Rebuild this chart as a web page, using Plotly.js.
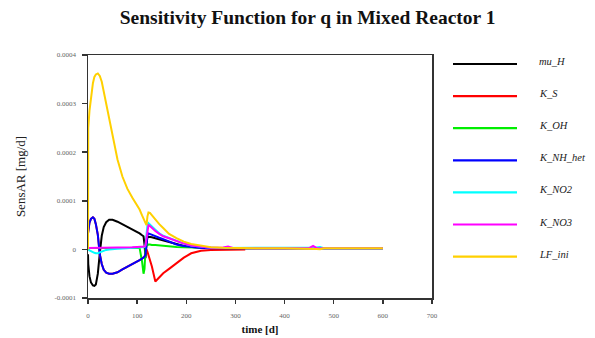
<!DOCTYPE html>
<html>
<head>
<meta charset="utf-8">
<script src="https://cdn.plot.ly/plotly-3.0.1.min.js"></script>
<style>html,body{margin:0;padding:0;background:#fff;}#chart{width:595px;height:338px;}</style>
</head>
<body>
<div id="chart"></div>
<script>
// time [d]
var time = [0, 0.5, 3, 6, 10, 13, 16, 20, 24, 28,
            32, 37, 43, 50, 60, 70, 80, 90, 100, 105,
            110, 113, 115, 117, 119, 121, 123, 126, 130, 137,
            145, 153, 165, 180, 195, 210, 230, 250, 275, 285,
            295, 320, 350, 400, 450, 458, 465, 472, 480, 520,
            560, 600];

var mu_H = [-0.1e-4, -0.3e-4, -0.55e-4, -0.68e-4, -0.74e-4, -0.75e-4, -0.72e-4, -0.5e-4, -0.08e-4, 0.28e-4,
            0.46e-4, 0.56e-4, 0.61e-4, 0.61e-4, 0.57e-4, 0.52e-4, 0.46e-4, 0.41e-4, 0.36e-4, 0.33e-4,
            0.29e-4, 0.27e-4, 0.1e-4, -0.18e-4, 0.1e-4, 0.26e-4, 0.26e-4, 0.26e-4, 0.25e-4, 0.23e-4,
            0.21e-4, 0.19e-4, 0.15e-4, 0.11e-4, 0.07e-4, 0.05e-4, 0.03e-4, 0.025e-4, 0.025e-4, 0.025e-4,
            0.025e-4, 0.025e-4, 0.025e-4, 0.025e-4, 0.025e-4, 0.025e-4, 0.025e-4, 0.025e-4, 0.025e-4, 0.025e-4,
            0.025e-4, 0.025e-4];

var K_S = [0.33e-4, 0.4e-4, 0.55e-4, 0.63e-4, 0.66e-4, 0.63e-4, 0.52e-4, 0.3e-4, -0.1e-4, -0.3e-4,
           -0.42e-4, -0.48e-4, -0.5e-4, -0.5e-4, -0.47e-4, -0.41e-4, -0.36e-4, -0.3e-4, -0.25e-4, -0.22e-4,
           -0.19e-4, -0.17e-4, -0.15e-4, -0.1e-4, 0.0, -0.05e-4, -0.12e-4, -0.18e-4, -0.35e-4, -0.66e-4,
           -0.58e-4, -0.49e-4, -0.4e-4, -0.28e-4, -0.17e-4, -0.08e-4, -0.03e-4, -0.01e-4, -0.005e-4, 0.0,
           0.0, 0.0, null, null, null, null, null, null, null, null,
           null, null];

var K_OH = [0.03e-4, 0.03e-4, 0.03e-4, 0.03e-4, 0.03e-4, 0.03e-4, 0.03e-4, 0.03e-4, 0.03e-4, 0.03e-4,
            0.03e-4, 0.03e-4, 0.03e-4, 0.03e-4, 0.03e-4, 0.03e-4, 0.03e-4, 0.03e-4, 0.03e-4, 0.03e-4,
            -0.25e-4, -0.5e-4, -0.4e-4, 0.02e-4, 0.08e-4, 0.1e-4, 0.1e-4, 0.1e-4, 0.09e-4, 0.09e-4,
            0.08e-4, 0.075e-4, 0.065e-4, 0.05e-4, 0.045e-4, 0.04e-4, 0.035e-4, 0.03e-4, 0.028e-4, 0.025e-4,
            0.025e-4, 0.025e-4, 0.025e-4, 0.025e-4, 0.025e-4, 0.025e-4, 0.025e-4, 0.025e-4, 0.025e-4, 0.025e-4,
            0.025e-4, 0.025e-4];

var K_NH_het = [0.33e-4, 0.4e-4, 0.55e-4, 0.63e-4, 0.66e-4, 0.63e-4, 0.52e-4, 0.3e-4, -0.1e-4, -0.3e-4,
                -0.42e-4, -0.48e-4, -0.5e-4, -0.5e-4, -0.47e-4, -0.41e-4, -0.36e-4, -0.3e-4, -0.25e-4, -0.22e-4,
                -0.19e-4, -0.17e-4, -0.15e-4, -0.1e-4, 0.05e-4, 0.3e-4, 0.33e-4, 0.32e-4, 0.3e-4, 0.27e-4,
                0.24e-4, 0.21e-4, 0.16e-4, 0.1e-4, 0.07e-4, 0.05e-4, 0.03e-4, 0.025e-4, 0.025e-4, 0.025e-4,
                0.025e-4, 0.025e-4, 0.025e-4, 0.025e-4, 0.025e-4, 0.025e-4, 0.025e-4, 0.025e-4, 0.025e-4, 0.025e-4,
                0.025e-4, 0.025e-4];

var K_NO2 = [0.02e-4, 0.0, -0.02e-4, -0.04e-4, -0.06e-4, -0.07e-4, -0.08e-4, -0.08e-4, -0.06e-4, -0.04e-4,
             -0.02e-4, -0.01e-4, 0.0, 0.01e-4, 0.015e-4, 0.02e-4, 0.025e-4, 0.03e-4, 0.03e-4, 0.035e-4,
             0.04e-4, 0.04e-4, 0.05e-4, 0.1e-4, 0.3e-4, 0.5e-4, 0.54e-4, 0.51e-4, 0.46e-4, 0.39e-4,
             0.33e-4, 0.28e-4, 0.23e-4, 0.17e-4, 0.12e-4, 0.08e-4, 0.05e-4, 0.035e-4, 0.03e-4, 0.03e-4,
             0.025e-4, 0.025e-4, 0.025e-4, 0.025e-4, 0.025e-4, 0.025e-4, 0.04e-4, 0.05e-4, 0.025e-4, 0.025e-4,
             0.025e-4, 0.025e-4];

var K_NO3 = [0.03e-4, 0.03e-4, 0.03e-4, 0.03e-4, 0.035e-4, 0.035e-4, 0.035e-4, 0.035e-4, 0.035e-4, 0.035e-4,
             0.04e-4, 0.04e-4, 0.04e-4, 0.04e-4, 0.04e-4, 0.045e-4, 0.045e-4, 0.045e-4, 0.05e-4, 0.05e-4,
             0.05e-4, 0.05e-4, 0.06e-4, 0.08e-4, 0.25e-4, 0.45e-4, 0.5e-4, 0.48e-4, 0.44e-4, 0.38e-4,
             0.32e-4, 0.27e-4, 0.23e-4, 0.17e-4, 0.12e-4, 0.08e-4, 0.05e-4, 0.035e-4, 0.04e-4, 0.06e-4,
             0.03e-4, 0.025e-4, 0.025e-4, 0.025e-4, 0.025e-4, 0.07e-4, 0.03e-4, 0.025e-4, 0.025e-4, 0.025e-4,
             0.025e-4, 0.025e-4];

var LF_ini = [0.0, 2.5e-4, 2.85e-4, 3.15e-4, 3.42e-4, 3.55e-4, 3.6e-4, 3.62e-4, 3.57e-4, 3.45e-4,
              3.25e-4, 2.98e-4, 2.65e-4, 2.3e-4, 1.85e-4, 1.5e-4, 1.25e-4, 1.07e-4, 0.92e-4, 0.82e-4,
              0.7e-4, 0.63e-4, 0.57e-4, 0.53e-4, 0.5e-4, 0.68e-4, 0.76e-4, 0.75e-4, 0.7e-4, 0.61e-4,
              0.52e-4, 0.44e-4, 0.32e-4, 0.23e-4, 0.16e-4, 0.11e-4, 0.07e-4, 0.045e-4, 0.032e-4, 0.03e-4,
              0.028e-4, 0.026e-4, 0.025e-4, 0.025e-4, 0.025e-4, 0.022e-4, 0.01e-4, 0.005e-4, 0.025e-4, 0.025e-4,
              0.025e-4, 0.025e-4];

var seriesNames = ['mu_H', 'K_S', 'K_OH', 'K_NH_het', 'K_NO2', 'K_NO3', 'LF_ini'];
var seriesValues = [mu_H, K_S, K_OH, K_NH_het, K_NO2, K_NO3, LF_ini];
var seriesColors = ['#000000', '#ff0000', '#00ee00', '#0000ff', '#00ffff', '#ff00ff', '#ffd000'];

var yTickVals = [-0.0001, 0, 0.0001, 0.0002, 0.0003, 0.0004];
var yTickText = ['-0.0001', '0', '0.0001', '0.0002', '0.0003', '0.0004'];
var xTickVals = [0, 100, 200, 300, 400, 500, 600, 700];

var traces = seriesNames.map(function (n, i) {
  return {x: time, y: seriesValues[i], name: n, type: 'scatter', mode: 'lines',
          line: {color: seriesColors[i], width: 2}, showlegend: false};
});

// hand-drawn legend (long lines, like the reference)
var shapes = [], annotations = [];
var plotTop = 55, plotBottom = 298, plotLeft = 88, plotRight = 432;
var ph = plotBottom - plotTop, pw = plotRight - plotLeft;
seriesNames.forEach(function (n, i) {
  var ypx = 64 + 32.1 * i;
  var yp = (plotBottom - ypx) / ph;
  shapes.push({type: 'line', xref: 'paper', yref: 'paper',
               x0: (453 - plotLeft) / pw, x1: (517 - plotLeft) / pw, y0: yp, y1: yp,
               line: {color: seriesColors[i], width: 2.2}});
  annotations.push({xref: 'paper', yref: 'paper', x: (537 - plotLeft) / pw, y: (plotBottom - ypx + 2.5) / ph,
                    xanchor: 'left', yanchor: 'middle', showarrow: false, text: '<i>' + n + '</i>',
                    font: {family: 'Liberation Serif', size: 10.5, color: '#222'}});
});

var layout = {
  width: 595, height: 338,
  margin: {l: 88, r: 163, t: 55, b: 40},
  paper_bgcolor: '#fff', plot_bgcolor: '#fff',
  title: {text: '<b>Sensitivity Function for q in Mixed Reactor 1</b>',
          font: {family: 'Liberation Serif', size: 19.5, color: '#111'},
          x: 0.517, xref: 'container', xanchor: 'center', y: 0.95, yref: 'container', yanchor: 'middle'},
  xaxis: {range: [0, 700], tickvals: xTickVals, showgrid: false, zeroline: false,
          showline: true, linecolor: '#333', linewidth: 1.5, mirror: true,
          ticks: 'outside', ticklen: 4, tickwidth: 1.5, tickcolor: '#333', ticklabelstandoff: 6,
          tickfont: {family: 'Liberation Serif', size: 7, color: '#666'},
          title: {text: '<b>time [d]</b>', standoff: 6, font: {family: 'Liberation Serif', size: 11, color: '#111'}}},
  yaxis: {range: [-0.0001, 0.0004], tickvals: yTickVals, ticktext: yTickText, showgrid: false, zeroline: false,
          showline: true, linecolor: '#333', linewidth: 1.5, mirror: true,
          ticks: 'outside', ticklen: 5, tickwidth: 1.5, tickcolor: '#333', ticklabelstandoff: 4,
          tickfont: {family: 'Liberation Serif', size: 7, color: '#666'},
          title: {text: 'SensAR [mg/d]', standoff: 26, font: {family: 'Liberation Serif', size: 13, color: '#222'}}},
  shapes: shapes,
  annotations: annotations,
  showlegend: false
};

Plotly.newPlot('chart', traces, layout, {displayModeBar: false, staticPlot: true});
</script>
</body>
</html>
